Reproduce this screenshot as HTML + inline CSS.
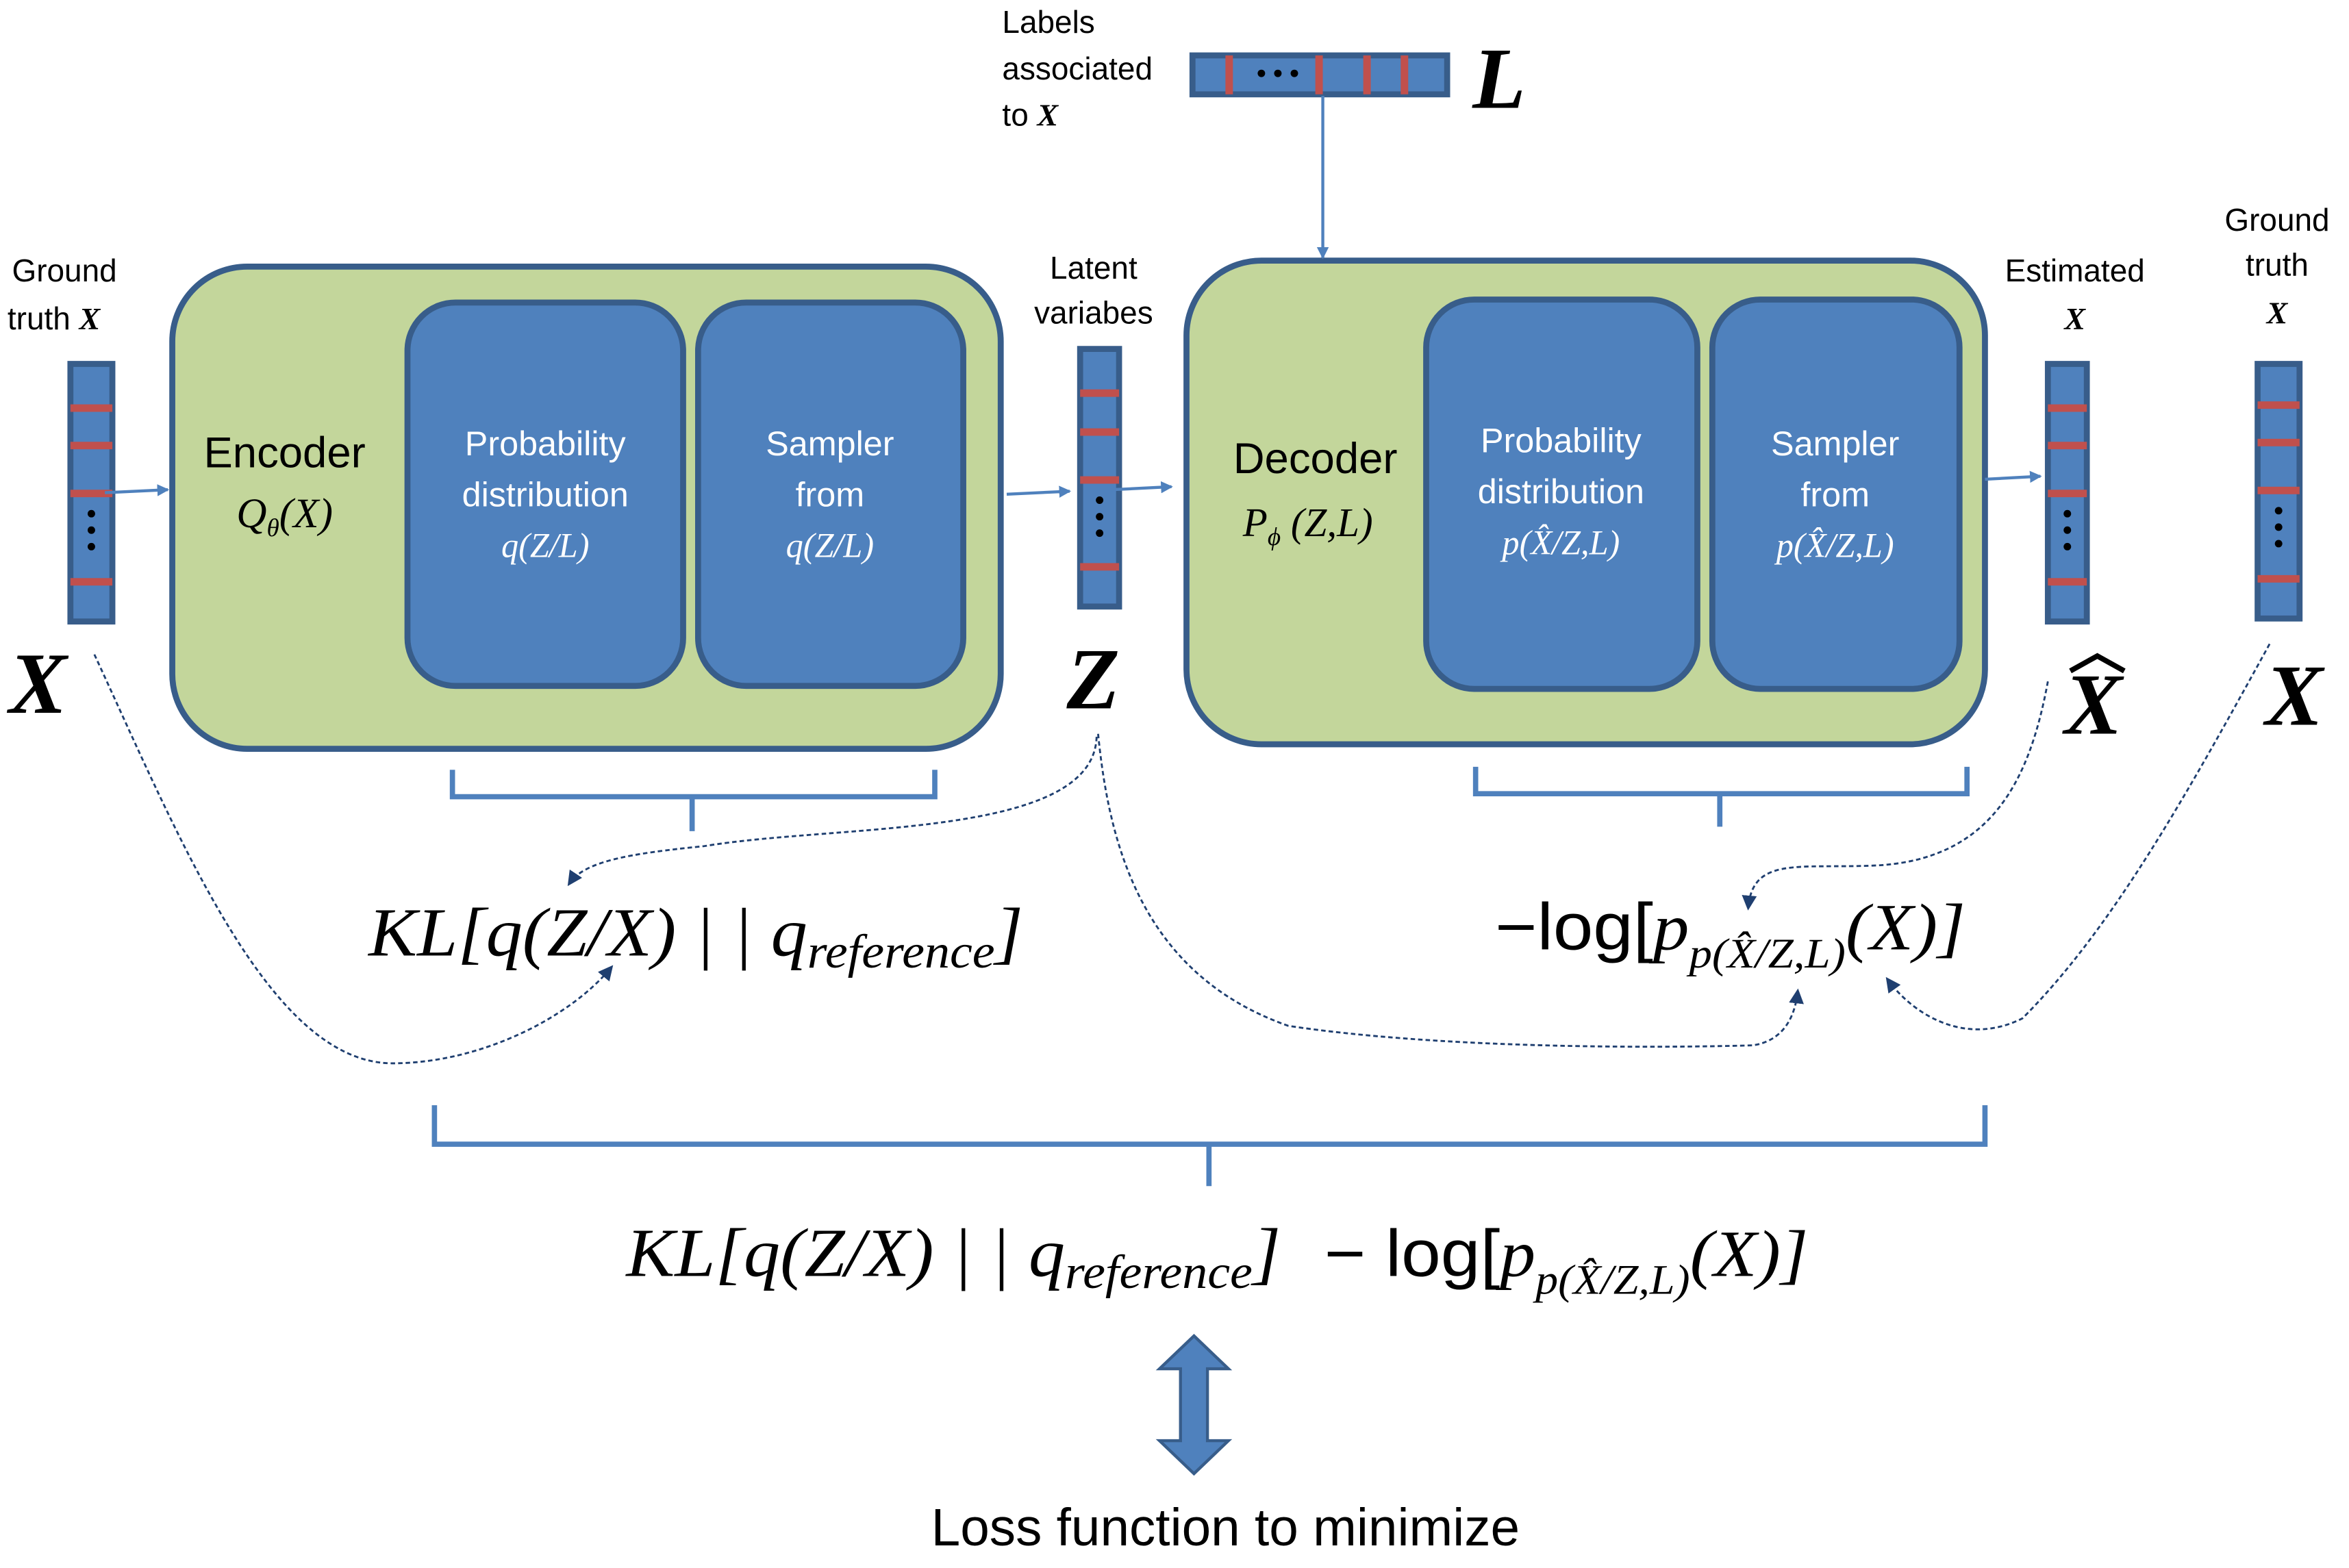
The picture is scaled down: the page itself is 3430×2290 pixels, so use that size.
<!DOCTYPE html>
<html><head><meta charset="utf-8"><style>
html,body{margin:0;padding:0;background:#fff;}
svg{display:block;}
text{font-family:"Liberation Sans",sans-serif;}
.m{font-family:"Liberation Serif",serif;font-style:italic;}
</style></head><body>
<svg width="3430" height="2290" viewBox="0 0 1568 1047" preserveAspectRatio="none" xmlns="http://www.w3.org/2000/svg">
<defs>
<marker id="ah" markerWidth="8" markerHeight="8" refX="7" refY="4" orient="auto" markerUnits="userSpaceOnUse"><path d="M0,0 L8,4 L0,8 z" fill="#4f81bd"/></marker>
<marker id="ahd" markerWidth="10" markerHeight="10" refX="8" refY="5" orient="auto" markerUnits="userSpaceOnUse"><path d="M0,0 L10,5 L0,10 z" fill="#1f3f70"/></marker>
</defs>

<rect x="115" y="178" width="553" height="322" rx="50" fill="#c3d69b" stroke="#385d8a" stroke-width="4"/>
<rect x="272" y="202" width="184" height="256" rx="32" fill="#4f81bd" stroke="#385d8a" stroke-width="4"/>
<rect x="466" y="202" width="177" height="256" rx="32" fill="#4f81bd" stroke="#385d8a" stroke-width="4"/>
<text x="190" y="312" font-size="29" text-anchor="middle">Encoder</text>
<text x="190" y="352" font-size="28" text-anchor="middle" class="m">Q<tspan font-size="17" dy="6">θ</tspan><tspan dy="-6">(X)</tspan></text>
<g fill="#fff" font-size="23" text-anchor="middle">
<text x="364" y="304">Probability</text><text x="364" y="338">distribution</text>
<text x="364" y="372" class="m">q(Z/L)</text>
<text x="554" y="304">Sampler</text><text x="554" y="338">from</text>
<text x="554" y="372" class="m">q(Z/L)</text>
</g>

<rect x="792" y="174" width="533" height="323" rx="50" fill="#c3d69b" stroke="#385d8a" stroke-width="4"/>
<rect x="952" y="200" width="181" height="260" rx="32" fill="#4f81bd" stroke="#385d8a" stroke-width="4"/>
<rect x="1143" y="200" width="165" height="260" rx="32" fill="#4f81bd" stroke="#385d8a" stroke-width="4"/>
<text x="878" y="316" font-size="29" text-anchor="middle">Decoder</text>
<text x="873" y="358" font-size="27" text-anchor="middle" class="m">P<tspan font-size="17" dy="6">ϕ</tspan><tspan dy="-6"> (Z,L)</tspan></text>
<g fill="#fff" font-size="23" text-anchor="middle">
<text x="1042" y="302">Probability</text><text x="1042" y="336">distribution</text>
<text x="1042" y="370" class="m">p(X̂/Z,L)</text>
<text x="1225" y="304">Sampler</text><text x="1225" y="338">from</text>
<text x="1225" y="372" class="m">p(X̂/Z,L)</text>
</g>

<g stroke="#385d8a" stroke-width="4" fill="#4f81bd">
<rect x="47" y="243" width="28" height="172"/>
<rect x="721" y="233" width="26" height="172"/>
<rect x="1367" y="243" width="26" height="172"/>
<rect x="1507" y="243" width="28" height="170"/>
<rect x="796" y="37" width="170" height="26"/>
</g>
<g fill="#c0504d">
<rect x="47" y="270" width="28" height="5"/><rect x="47" y="295" width="28" height="5"/><rect x="47" y="327" width="28" height="5"/><rect x="47" y="386" width="28" height="5"/>
<rect x="721" y="260" width="26" height="5"/><rect x="721" y="286" width="26" height="5"/><rect x="721" y="318" width="26" height="5"/><rect x="721" y="376" width="26" height="5"/>
<rect x="1367" y="270" width="26" height="5"/><rect x="1367" y="295" width="26" height="5"/><rect x="1367" y="327" width="26" height="5"/><rect x="1367" y="386" width="26" height="5"/>
<rect x="1507" y="268" width="28" height="5"/><rect x="1507" y="293" width="28" height="5"/><rect x="1507" y="325" width="28" height="5"/><rect x="1507" y="384" width="28" height="5"/>
<rect x="818" y="37" width="5" height="26"/><rect x="878" y="37" width="5" height="26"/><rect x="910" y="37" width="5" height="26"/><rect x="935" y="37" width="5" height="26"/>
</g>
<g fill="#000">
<circle cx="61" cy="343" r="2.5"/><circle cx="61" cy="354" r="2.5"/><circle cx="61" cy="365" r="2.5"/>
<circle cx="734" cy="334" r="2.5"/><circle cx="734" cy="345" r="2.5"/><circle cx="734" cy="356" r="2.5"/>
<circle cx="1380" cy="343" r="2.5"/><circle cx="1380" cy="354" r="2.5"/><circle cx="1380" cy="365" r="2.5"/>
<circle cx="1521" cy="341" r="2.5"/><circle cx="1521" cy="352" r="2.5"/><circle cx="1521" cy="363" r="2.5"/>
<circle cx="842" cy="49" r="2.5"/><circle cx="853" cy="49" r="2.5"/><circle cx="864" cy="49" r="2.5"/>
</g>

<g stroke="#4f81bd" stroke-width="2" fill="none" marker-end="url(#ah)">
<line x1="70" y1="329" x2="112" y2="327"/>
<line x1="672" y1="330" x2="714" y2="328"/>
<line x1="742" y1="327" x2="782" y2="325"/>
<line x1="1325" y1="320" x2="1362" y2="318"/>
<line x1="883" y1="64" x2="883" y2="172"/>
</g>

<g font-size="21">
<text x="43" y="188" text-anchor="middle">Ground</text>
<text x="5" y="220">truth <tspan class="m" font-weight="bold">X</tspan></text>
<text x="730" y="186" text-anchor="middle">Latent</text>
<text x="730" y="216" text-anchor="middle">variabes</text>
<text x="1385" y="188" text-anchor="middle">Estimated</text>
<text x="1385" y="220" text-anchor="middle" class="m" font-weight="bold">X</text>
<text x="1520" y="154" text-anchor="middle">Ground</text>
<text x="1520" y="184" text-anchor="middle">truth</text>
<text x="1520" y="216" text-anchor="middle" class="m" font-weight="bold">X</text>
<text x="669" y="22">Labels</text>
<text x="669" y="53">associated</text>
<text x="669" y="84">to <tspan class="m" font-weight="bold">X</tspan></text>
</g>
<g font-weight="bold" font-size="58">
<text class="m" x="6" y="476">X</text>
<text class="m" x="712" y="473">Z</text>
<text class="m" x="1378" y="490">X</text>
<text class="m" x="1512" y="484">X</text>
<text class="m" x="983" y="72">L</text>
</g>
<path d="M1382,448 L1400,438 L1418,448" stroke="#000" stroke-width="3.5" fill="none"/>

<g stroke="#4f81bd" stroke-width="3.5" fill="none">
<path d="M302,514 L302,532 L462,532 L462,555 M462,532 L624,532 L624,514"/>
<path d="M985,512 L985,530 L1148,530 L1148,552 M1148,530 L1313,530 L1313,512"/>
<path d="M290,738 L290,764 L807,764 L807,792 M807,764 L1325,764 L1325,738"/>
</g>

<g stroke="#1f3f70" stroke-width="1.3" fill="none" stroke-dasharray="3,2" marker-end="url(#ahd)">
<path d="M63,437 C120,560 180,710 262,710 C320,710 380,680 408,646"/>
<path d="M732,492 C730,560 560,550 470,565 C420,570 390,575 380,590"/>
<path d="M733,490 C740,560 760,650 860,685 C960,700 1100,700 1170,698 C1190,695 1198,680 1200,662"/>
<path d="M1367,455 C1355,520 1330,575 1250,578 C1200,580 1170,572 1167,606"/>
<path d="M1515,430 C1460,530 1410,620 1350,680 C1310,700 1275,675 1260,654"/>
</g>

<text x="246" y="638" font-size="46" class="m" textLength="437" lengthAdjust="spacingAndGlyphs">KL[q(Z/X) | | q<tspan font-size="32" dy="8">reference</tspan><tspan dy="-8">]</tspan></text>
<text x="998" y="634" font-size="44" font-family="Liberation Serif" textLength="314" lengthAdjust="spacingAndGlyphs">−log[<tspan class="m">p</tspan><tspan class="m" font-size="28" dy="12">p(X̂/Z,L)</tspan><tspan dy="-12" class="m">(X)]</tspan></text>
<text x="418" y="852" font-size="46" class="m" textLength="437" lengthAdjust="spacingAndGlyphs">KL[q(Z/X) | | q<tspan font-size="32" dy="8">reference</tspan><tspan dy="-8">]</tspan></text>
<text x="884" y="852" font-size="44" font-family="Liberation Serif" textLength="323" lengthAdjust="spacingAndGlyphs">− log[<tspan class="m">p</tspan><tspan class="m" font-size="28" dy="12">p(X̂/Z,L)</tspan><tspan dy="-12" class="m">(X)]</tspan></text>

<path d="M797,892 L820,914 L806,914 L806,962 L820,962 L797,984 L774,962 L788,962 L788,914 L774,914 Z" fill="#4f81bd" stroke="#385d8a" stroke-width="2"/>
<text x="818" y="1032" font-size="35" text-anchor="middle">Loss function to minimize</text>
</svg>
</body></html>
